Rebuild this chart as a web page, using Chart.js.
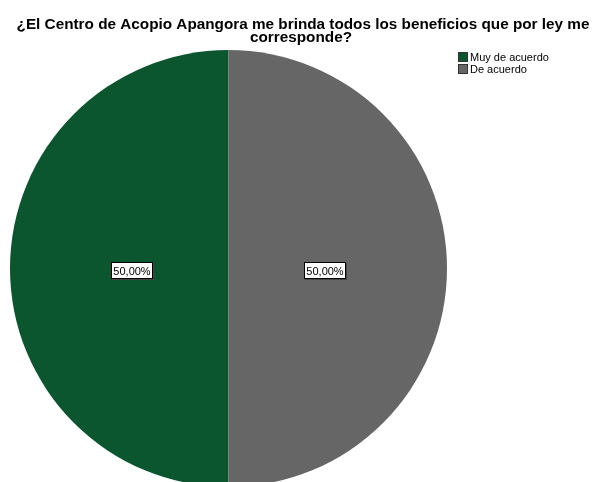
<!DOCTYPE html>
<html>
<head>
<meta charset="utf-8">
<script src="https://cdn.jsdelivr.net/npm/chart.js@4"></script>
<style>
  html, body { margin: 0; padding: 0; background: #fff; overflow: hidden; }
  #wrap { width: 597px; height: 500px; }
</style>
</head>
<body>
<div id="wrap"><canvas id="pie" width="597" height="500"></canvas></div>
<script>
const titleLines = ['¿El Centro de Acopio Apangora me brinda todos los beneficios que por ley me', 'corresponde?'];
const categories = ['Muy de acuerdo', 'De acuerdo'];
const values = [50, 50];
const colors = ['#0b552f', '#666666'];

// title, legend and percent boxes are drawn by hand
const decorations = {
  id: 'decorations',
  afterDraw(chart) {
    const ctx = chart.ctx;
    ctx.save();

    ctx.fillStyle = '#000';
    ctx.font = 'bold 15.3px "Liberation Sans", Arial, sans-serif';
    ctx.textAlign = 'center';
    ctx.textBaseline = 'alphabetic';
    ctx.fillText(titleLines[0], 303, 29);
    ctx.fillText(titleLines[1], 301, 42);

    ctx.font = '11px "Liberation Sans", Arial, sans-serif';
    ctx.textAlign = 'left';
    ctx.textBaseline = 'middle';
    chart.data.labels.forEach((lab, i) => {
      const y = 52 + i * 12;
      ctx.fillStyle = colors[i];
      ctx.fillRect(458, y, 10, 10);
      ctx.strokeStyle = '#333';
      ctx.lineWidth = 1;
      ctx.strokeRect(458.5, y + 0.5, 9, 9);
      ctx.fillStyle = '#000';
      ctx.fillText(lab, 470, y + 5.5);
    });

    const meta = chart.getDatasetMeta(0);
    const total = values.reduce((a, b) => a + b, 0);
    meta.data.forEach((arc, i) => {
      const mid = (arc.startAngle + arc.endAngle) / 2;
      const r = arc.outerRadius * 0.44;
      const x = Math.round(arc.x + Math.cos(mid) * r);
      const y = Math.round(arc.y + Math.sin(mid) * r) + 2;
      const txt = (values[i] / total * 100).toFixed(2).replace('.', ',') + '%';
      const w = Math.round(ctx.measureText(txt).width) + 5;
      const h = 17;
      const bx = x - Math.round(w / 2);
      const by = y - Math.round(h / 2);
      // slight drop shadow on the right and bottom edges
      ctx.fillStyle = '#444';
      ctx.fillRect(bx + 1, by + 1, w, h);
      ctx.fillStyle = '#fff';
      ctx.fillRect(bx, by, w, h);
      ctx.strokeStyle = '#000';
      ctx.strokeRect(bx + 0.5, by + 0.5, w - 1, h - 1);
      ctx.fillStyle = '#000';
      ctx.textAlign = 'center';
      ctx.fillText(txt, x, y + 1);
    });
    ctx.restore();
  }
};

new Chart(document.getElementById('pie'), {
  type: 'pie',
  data: {
    labels: categories,
    datasets: [{
      data: values,
      backgroundColor: colors,
      borderWidth: 0
    }]
  },
  options: {
    responsive: false,
    animation: false,
    rotation: 180,
    layout: { padding: { left: 10, right: 150, top: 50, bottom: 13 } },
    plugins: {
      legend: { display: false },
      tooltip: { enabled: false }
    }
  },
  plugins: [decorations]
});
</script>
</body>
</html>
